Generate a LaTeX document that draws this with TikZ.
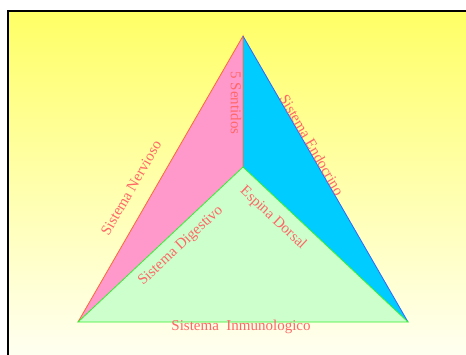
\documentclass[tikz,border=0pt]{standalone}
\usepackage{fontspec}
\setmainfont{Liberation Serif}
\definecolor{topyellow}{HTML}{FFFF66}
\definecolor{lowcream}{HTML}{FFFFF2}
\definecolor{nervpink}{HTML}{FF99CC}
\definecolor{endoblue}{HTML}{00CCFF}
\definecolor{digegreen}{HTML}{CCFFCC}
\definecolor{edgeorange}{HTML}{FF6633}
\definecolor{edgegreen}{HTML}{33EE33}
\definecolor{edgeblue}{HTML}{3366FF}
\definecolor{systemred}{HTML}{FF6666}
\tikzset{systext/.style={text=systemred, inner sep=0pt, font=\fontsize{15}{18}\selectfont}}
\begin{document}
\begin{tikzpicture}[x=1pt,y=-1pt]
\useasboundingbox (0,0) rectangle (466,354);
\shade[top color=topyellow, bottom color=lowcream] (8,11) rectangle (470,358);
\draw[black, line width=2pt] (470,11) -- (8,11) -- (8,358);

\coordinate (apex) at (243,36);
\coordinate (lft) at (78,322);
\coordinate (rgt) at (408,322);
\coordinate (mid) at (243,167);

\fill[nervpink] (apex) -- (lft) -- (mid) -- cycle;
\fill[endoblue] (apex) -- (mid) -- (rgt) -- cycle;
\fill[digegreen] (lft) -- (mid) -- (rgt) -- cycle;
\draw[edgeorange, thick] (lft) -- (apex) -- (mid);
\draw[edgeblue, thick] (apex) -- (rgt);
\draw[edgegreen, thick] (lft) -- (mid) -- (rgt) -- cycle;

\node[systext, rotate=-90] (sentidos) at (236,103) {5 Sentidos};
\node[systext, rotate=60] (nervioso) at (131,188) {Sistema Nervioso};
\node[systext, rotate=-60] (endocrino) at (312,145) {Sistema Endocrino};
\node[systext, rotate=43] (digestivo) at (181,246) {Sistema Digestivo};
\node[systext, rotate=-43] (espina) at (273,218) {Espina Dorsal};
\node[systext] (inmuno) at (241,327) {Sistema\ \ Inmunologico};
\end{tikzpicture}
\end{document}
